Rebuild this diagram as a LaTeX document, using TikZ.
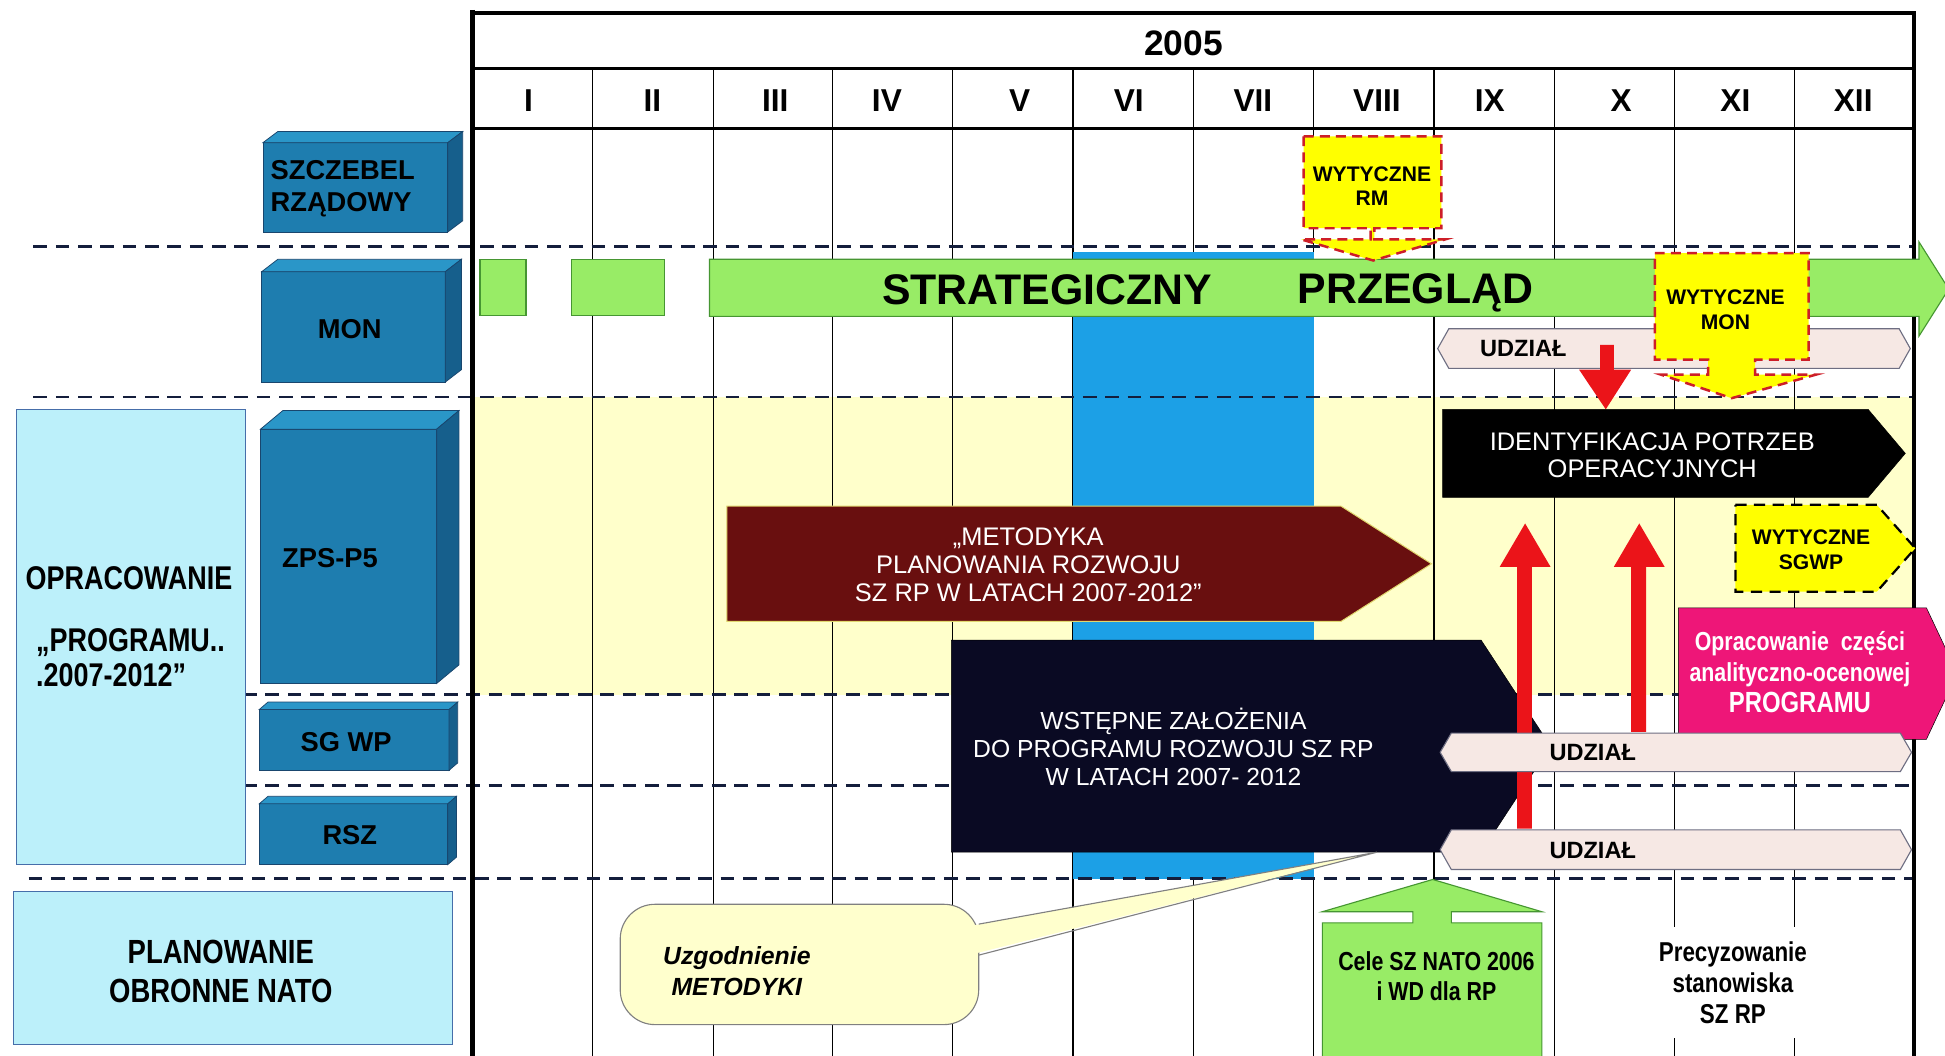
\documentclass[tikz,border=0pt]{standalone}
\usepackage{fontspec}
\setmainfont{Liberation Sans}
\newfontfamily\narrowfont{Liberation Sans}[FakeStretch=0.82]
\usetikzlibrary{calc}

\newcommand\txtsize[2]{\fontsize{#1}{#2}\selectfont}

\definecolor{cubefront}{RGB}{30,125,175}
\definecolor{cubetop}{RGB}{42,150,200}
\definecolor{cubeside}{RGB}{22,95,140}
\definecolor{cubeedge}{RGB}{25,70,110}
\definecolor{paleblue}{RGB}{188,240,250}
\definecolor{paleedge}{RGB}{70,110,170}
\definecolor{bandyellow}{RGB}{255,255,203}
\definecolor{sky}{RGB}{28,160,230}
\definecolor{leaf}{RGB}{152,236,102}
\definecolor{leafedge}{RGB}{70,150,50}
\definecolor{signal}{RGB}{255,255,0}
\definecolor{dashred}{RGB}{205,30,40}
\definecolor{pinkbar}{RGB}{246,232,228}
\definecolor{baredge}{RGB}{110,110,130}
\definecolor{alarm}{RGB}{235,20,25}
\definecolor{maroonbox}{RGB}{105,15,15}
\definecolor{inkblue}{RGB}{10,10,35}
\definecolor{rose}{RGB}{238,22,120}
\definecolor{cream}{RGB}{255,255,205}
\definecolor{gridink}{RGB}{20,30,60}

% 3D block: name, x1, y1, x2, y2, dx, dy
\newcommand\cubeblock[7]{%
  \filldraw[cubeface] (#2,#3) rectangle (#4,#5);
  \filldraw[cubeface,fill=cubetop] (#2,#3) -- ({#2+#6},{#3+#7}) -- ({#4+#6},{#3+#7}) -- (#4,#3) -- cycle;
  \filldraw[cubeface,fill=cubeside] (#4,#3) -- ({#4+#6},{#3+#7}) -- ({#4+#6},{#5+#7}) -- (#4,#5) -- cycle;
  \coordinate (#1) at ({(#2+#4)/2},{(#3+#5)/2});
}
% chamfered bar: x1, y1, x2, y2
\newcommand\hexbar[4]{%
  \filldraw[barshape] ({#1+9},#2) -- ({#3-9},#2) -- (#3,{(#2+#4)/2}) -- ({#3-9},#4) -- ({#1+9},#4) -- (#1,{(#2+#4)/2}) -- cycle;
}
% pentagon arrow: style, x1, y1, x2, y2, tip x
\newcommand\pentarrow[6]{%
  \filldraw[#1] (#2,#3) -- (#5,#3) -- (#6,{(#3+#4)/2}) -- (#5,#4) -- (#2,#4) -- cycle;
}

\begin{document}
\begin{tikzpicture}[x=1pt,y=-1pt,
  colline/.style={line width=0.9pt,black},
  rowdash/.style={line width=2.2pt,gridink,dash pattern=on 11pt off 7pt},
  cubeface/.style={fill=cubefront,draw=cubeedge,line width=0.6pt},
  palebox/.style={fill=paleblue,draw=paleedge,line width=0.8pt},
  leafshape/.style={fill=leaf,draw=leafedge,line width=0.9pt},
  callout/.style={fill=signal,draw=dashred,line width=2pt,dash pattern=on 8pt off 5pt},
  sgwpshape/.style={fill=signal,draw=black,line width=1.8pt,dash pattern=on 9pt off 6pt},
  barshape/.style={fill=pinkbar,draw=baredge,line width=0.9pt},
  redarrow/.style={fill=alarm},
  lbl/.style={inner sep=0pt,align=center},
  cubelabel/.style={lbl,font=\bfseries\txtsize{22}{26}},
  monthlabel/.style={lbl,font=\bfseries\txtsize{25.5}{30}},
  calloutlabel/.style={lbl,font=\bfseries\txtsize{17}{20}},
  barlabel/.style={lbl,font=\bfseries\txtsize{19}{22}},
  whitelabel/.style={lbl,text=white,font=\txtsize{20}{22.5}},
  narrowlabel/.style={lbl,font=\narrowfont\bfseries}
]
\useasboundingbox (0,0) rectangle (1568,851);
\clip (0,0) rectangle (1568,851);
\fill[white] (0,0) rectangle (1568,851);

% ---- calendar grid ----
\fill[bandyellow] (381,320) rectangle (1543,560);
\foreach \x in {478,575,671,768,865,962,1059,1156,1253,1350,1447}
  \draw[colline] (\x,55) -- (\x,851);
\fill[sky] (865,203) rectangle (1059,709);
\foreach \y/\xa in {199/27,320/27,560/196,633/196,708/23}
  \draw[rowdash] (\xa,\y) -- (1543,\y);
\draw[line width=2.7pt] (381,10.5) -- (1543,10.5);
\draw[line width=2.1pt] (381,55) -- (1543,55);
\draw[line width=2.1pt] (381,103.5) -- (1543,103.5);
\draw[line width=4.5pt] (381,8) -- (381,851);
\draw[line width=3.2pt] (1543,9) -- (1543,851);

\node[lbl,font=\bfseries\txtsize{28.5}{32}] (year) at (954,35) {2005};
\foreach \m/\x in {I/426,II/526,III/625,IV/715,V/822,VI/910,VII/1010,VIII/1110,IX/1201,X/1307,XI/1399,XII/1494}
  \node[monthlabel] (m\m) at (\x,81) {\m};

% ---- left column ----
\filldraw[palebox] (13,330) rectangle (198,697);
\filldraw[palebox] (11,719) rectangle (365,842);
\cubeblock{cSZ}{212}{115}{361}{187}{12}{-9}
\cubeblock{cMON}{211}{219}{359}{308}{13}{-10}
\cubeblock{cZPS}{210}{346}{352}{551}{18}{-15}
\cubeblock{cSG}{209}{572}{362}{621}{7}{-6}
\cubeblock{cRSZ}{209}{648}{361}{697}{7}{-6}

\node[cubelabel,anchor=west,align=left] (tSZ) at (218,152) {SZCZEBEL\\RZĄDOWY};
\node[cubelabel] (tMON) at (282,265) {MON};
\node[cubelabel] (tZPS) at (266,450) {ZPS-P5};
\node[cubelabel] (tSG) at (279,598) {SG WP};
\node[cubelabel] (tRSZ) at (282,673) {RSZ};

\node[narrowlabel,font=\narrowfont\bfseries\txtsize{26.5}{30}] (tOPR) at (104,466) {OPRACOWANIE};
\node[narrowlabel,font=\narrowfont\bfseries\txtsize{26.5}{28},anchor=west,align=left] (tPRG) at (29,530) {„PROGRAMU..\\.2007-2012”};
\node[narrowlabel,font=\narrowfont\bfseries\txtsize{27}{31}] (tNATO) at (178,783) {PLANOWANIE\\OBRONNE NATO};

% ---- strategic review row ----
\filldraw[leafshape] (387,209) rectangle (424,254.5);
\filldraw[leafshape] (461,209) rectangle (536,254.5);
\filldraw[leafshape] (572,209) -- (1547,209) -- (1547,195) -- (1571,233) -- (1547,271) -- (1547,255) -- (572,255) -- cycle;
\node[lbl,font=\bfseries\txtsize{34.5}{40}] (tSTRAT) at (844,234) {STRATEGICZNY};
\node[lbl,font=\bfseries\txtsize{34.5}{40}] (tPRZ) at (1141,236) {PRZEGLĄD};

\filldraw[callout] (1051,110) -- (1162,110) -- (1162,184) -- (1108,184) -- (1108,193) -- (1165,193) -- (1107,210) -- (1049,193) -- (1105,193) -- (1105,184) -- (1051,184) -- cycle;
\node[calloutlabel] (tRM) at (1106,150) {WYTYCZNE\\RM};

\hexbar{1159}{265}{1540}{297}
\node[barlabel] (tU1) at (1228,281) {UDZIAŁ};
\fill[redarrow] (1290,278) -- (1301,278) -- (1301,298) -- (1315,298) -- (1294.5,330) -- (1273,298) -- (1290,298) -- cycle;

\filldraw[callout] (1334,204) -- (1458,204) -- (1458,290) -- (1415,290) -- (1415,302) -- (1464,302) -- (1396,321) -- (1339,302) -- (1377,302) -- (1377,290) -- (1334,290) -- cycle;
\node[calloutlabel] (tMONW) at (1391,250) {WYTYCZNE\\MON};

% ---- programme work ----
\pentarrow{fill=black}{1163}{330}{401}{1506}{1536}
\node[whitelabel,font=\txtsize{20.5}{22.5}] (tIDENT) at (1332,367) {IDENTYFIKACJA POTRZEB\\OPERACYJNYCH};

\pentarrow{sgwpshape}{1399}{407}{477}{1513}{1544}
\node[calloutlabel] (tSGWP) at (1460,443) {WYTYCZNE\\SGWP};

\pentarrow{fill=maroonbox,draw={rgb,255:red,225;green,215;blue,110},line width=0.8pt}{586}{408}{501}{1081}{1154}
\node[whitelabel,font=\txtsize{20.5}{22.5}] (tMET) at (829,455) {„METODYKA\\PLANOWANIA ROZWOJU\\SZ RP W LATACH 2007-2012”};

\pentarrow{fill=inkblue}{767}{516}{687}{1194}{1250}
\node[whitelabel,font=\txtsize{19.9}{22.5}] (tWST) at (946,602) {WSTĘPNE ZAŁOŻENIA\\DO PROGRAMU ROZWOJU SZ RP\\W LATACH 2007- 2012};

\fill[redarrow] (1223,668) -- (1223,457) -- (1209,457) -- (1229.5,422) -- (1250,457) -- (1235,457) -- (1235,668) -- cycle;
\fill[redarrow] (1315,590) -- (1315,457) -- (1301,457) -- (1321.5,422) -- (1342,457) -- (1327,457) -- (1327,590) -- cycle;

\pentarrow{fill=rose}{1353}{490}{596}{1553}{1578}
\node[lbl,text=white,font=\narrowfont\bfseries\txtsize{21}{25}] (tANA) at (1451,542)
  {Opracowanie\ \ części\\analityczno-ocenowej\\{\txtsize{23.5}{23.5}PROGRAMU}};

\hexbar{1161}{591}{1541}{622}
\node[barlabel] (tU2) at (1284,607) {UDZIAŁ};
\hexbar{1161}{669}{1541}{701}
\node[barlabel] (tU3) at (1284,686) {UDZIAŁ};

% ---- NATO row ----
\filldraw[fill=cream,draw=gray,line width=0.9pt,rounded corners=28pt] (500,729) rectangle (789,826);
\fill[cream] (785,746) -- (1110,687) -- (785,769) -- cycle;
\draw[gray,line width=0.9pt] (789,745) -- (1110,687) -- (789,770);
\node[lbl,font=\bfseries\itshape\txtsize{20}{24.5}] (tUZG) at (594,783) {Uzgodnienie\\METODYKI};

\filldraw[leafshape] (1066,870) -- (1066,744) -- (1139,744) -- (1139,735) -- (1066,735) -- (1155,709) -- (1243,735) -- (1170,735) -- (1170,744) -- (1243,744) -- (1243,870);
\node[narrowlabel,font=\narrowfont\bfseries\txtsize{21}{23.5}] (tCELE) at (1158,787) {Cele SZ NATO 2006\\i WD dla RP};

\node[narrowlabel,font=\narrowfont\bfseries\txtsize{22}{25},fill=white,inner xsep=3pt,inner ysep=12pt] (tPREC) at (1397,792) {Precyzowanie\\stanowiska\\SZ RP};
\end{tikzpicture}
\end{document}
